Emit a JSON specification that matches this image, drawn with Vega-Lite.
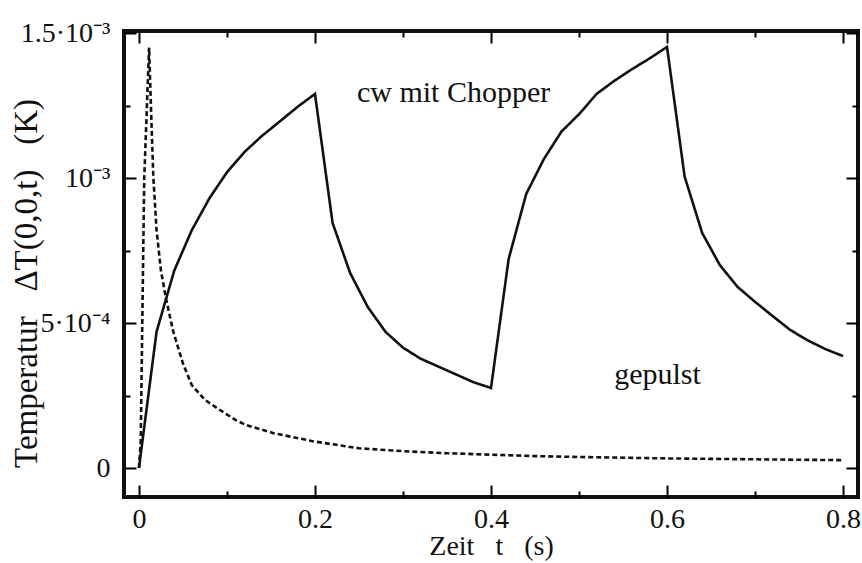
{
  "$schema": "https://vega.github.io/schema/vega-lite/v6.json",
  "width": 734,
  "height": 466,
  "autosize": "none",
  "padding": {"left": 124, "top": 31, "right": 4, "bottom": 66},
  "background": "white",
  "config": {
    "view": {"stroke": "#111", "strokeWidth": 4},
    "font": "Liberation Serif",
    "axis": {"domain": false, "grid": false, "tickColor": "#111", "tickWidth": 2, "labelColor": "#111", "titleColor": "#111", "labelFont": "Liberation Serif", "titleFont": "Liberation Serif", "titleFontWeight": "normal"}
  },
  "datasets": {
    "curves": [
      {"t": 0, "T": 0, "s": "cw"},
      {"t": 0.02, "T": 0.00047, "s": "cw"},
      {"t": 0.04, "T": 0.00068, "s": "cw"},
      {"t": 0.06, "T": 0.00082, "s": "cw"},
      {"t": 0.08, "T": 0.00093, "s": "cw"},
      {"t": 0.10, "T": 0.00102, "s": "cw"},
      {"t": 0.12, "T": 0.00109, "s": "cw"},
      {"t": 0.14, "T": 0.001146, "s": "cw"},
      {"t": 0.16, "T": 0.001195, "s": "cw"},
      {"t": 0.18, "T": 0.001245, "s": "cw"},
      {"t": 0.20, "T": 0.00129, "s": "cw"},
      {"t": 0.22, "T": 0.000845, "s": "cw"},
      {"t": 0.24, "T": 0.000672, "s": "cw"},
      {"t": 0.26, "T": 0.000555, "s": "cw"},
      {"t": 0.28, "T": 0.00047, "s": "cw"},
      {"t": 0.30, "T": 0.000415, "s": "cw"},
      {"t": 0.32, "T": 0.000377, "s": "cw"},
      {"t": 0.34, "T": 0.00035, "s": "cw"},
      {"t": 0.36, "T": 0.000323, "s": "cw"},
      {"t": 0.38, "T": 0.000296, "s": "cw"},
      {"t": 0.40, "T": 0.000276, "s": "cw"},
      {"t": 0.42, "T": 0.00072, "s": "cw"},
      {"t": 0.44, "T": 0.000945, "s": "cw"},
      {"t": 0.46, "T": 0.001065, "s": "cw"},
      {"t": 0.48, "T": 0.00116, "s": "cw"},
      {"t": 0.50, "T": 0.00122, "s": "cw"},
      {"t": 0.52, "T": 0.00129, "s": "cw"},
      {"t": 0.54, "T": 0.001335, "s": "cw"},
      {"t": 0.56, "T": 0.001375, "s": "cw"},
      {"t": 0.58, "T": 0.001412, "s": "cw"},
      {"t": 0.60, "T": 0.001452, "s": "cw"},
      {"t": 0.62, "T": 0.001005, "s": "cw"},
      {"t": 0.64, "T": 0.00081, "s": "cw"},
      {"t": 0.66, "T": 0.0007, "s": "cw"},
      {"t": 0.68, "T": 0.000625, "s": "cw"},
      {"t": 0.70, "T": 0.000573, "s": "cw"},
      {"t": 0.72, "T": 0.000524, "s": "cw"},
      {"t": 0.74, "T": 0.000476, "s": "cw"},
      {"t": 0.76, "T": 0.00044, "s": "cw"},
      {"t": 0.78, "T": 0.00041, "s": "cw"},
      {"t": 0.80, "T": 0.000386, "s": "cw"},
      {"t": 0, "T": 0, "s": "puls"},
      {"t": 0.002, "T": 0.00009, "s": "puls"},
      {"t": 0.004, "T": 0.00055, "s": "puls"},
      {"t": 0.006, "T": 0.001, "s": "puls"},
      {"t": 0.0115, "T": 0.00145, "s": "puls"},
      {"t": 0.014, "T": 0.00121, "s": "puls"},
      {"t": 0.0163, "T": 0.001005, "s": "puls"},
      {"t": 0.02, "T": 0.00082, "s": "puls"},
      {"t": 0.025, "T": 0.00068, "s": "puls"},
      {"t": 0.031, "T": 0.00058, "s": "puls"},
      {"t": 0.039, "T": 0.00047, "s": "puls"},
      {"t": 0.05, "T": 0.00036, "s": "puls"},
      {"t": 0.06, "T": 0.000286, "s": "puls"},
      {"t": 0.075, "T": 0.000235, "s": "puls"},
      {"t": 0.092, "T": 0.0002, "s": "puls"},
      {"t": 0.11, "T": 0.000165, "s": "puls"},
      {"t": 0.122, "T": 0.000148, "s": "puls"},
      {"t": 0.153, "T": 0.00012, "s": "puls"},
      {"t": 0.2, "T": 0.000091, "s": "puls"},
      {"t": 0.25, "T": 0.000068, "s": "puls"},
      {"t": 0.3, "T": 0.000058, "s": "puls"},
      {"t": 0.35, "T": 0.000051, "s": "puls"},
      {"t": 0.4, "T": 0.000046, "s": "puls"},
      {"t": 0.45, "T": 0.000041, "s": "puls"},
      {"t": 0.5, "T": 0.000038, "s": "puls"},
      {"t": 0.6, "T": 0.000033, "s": "puls"},
      {"t": 0.7, "T": 0.00003, "s": "puls"},
      {"t": 0.8, "T": 0.000027, "s": "puls"}
    ],
    "labels": [
      {"t": 0.2477, "T": 0.001262, "label": "cw mit Chopper"},
      {"t": 0.54, "T": 0.00029, "label": "gepulst"}
    ]
  },
  "layer": [
    {
      "data": {"name": "curves"},
      "mark": {"type": "line", "color": "#111", "strokeWidth": 2.6, "strokeJoin": "miter"},
      "encoding": {
        "x": {
          "field": "t", "type": "quantitative",
          "scale": {"domain": [-0.017, 0.817], "nice": false, "zero": false},
          "axis": {
            "orient": "bottom",
            "offset": -12,
            "ticks": true,
            "values": [0, 0.1, 0.2, 0.3, 0.4, 0.5, 0.6, 0.7, 0.8],
            "labelExpr": "round(datum.value*10)%2==0 ? format(datum.value,'.1~f') : ''",
            "tickSize": 12,
            "tickColor": "black",
            "tickWidth": 2,
            "tickDash": {"condition": {"test": "round(datum.value*10)%2==0", "value": [20, 1]}, "value": [0, 6, 6, 100]},
            "labelFontSize": 28,
            "labelPadding": 8,
            "title": "Zeit\u00a0\u00a0 t\u00a0\u00a0 (s)",
            "titleFont": "Liberation Serif",
            "titleFontSize": 28,
            "titleX": 367,
            "titleY": 69,
            "titleAlign": "center",
            "titleBaseline": "alphabetic"
          }
        },
        "y": {
          "field": "T", "type": "quantitative",
          "scale": {"domain": [-0.0001, 0.001507], "nice": false, "zero": false},
          "axis": {
            "orient": "left",
            "offset": -12,
            "ticks": true,
            "values": [0, 0.00025, 0.0005, 0.00075, 0.001, 0.00125, 0.0015],
            "labelExpr": "round(datum.value*10000)==0 ? '0' : round(datum.value*10000)==5 ? '5·10⁻⁴' : round(datum.value*10000)==10 ? '10⁻³' : round(datum.value*10000)==15 ? '1.5·10⁻³' : ''",
            "tickSize": 12,
            "tickColor": "black",
            "tickWidth": 2,
            "tickDash": {"condition": {"test": "round(datum.value*4000)%2==0", "value": [20, 1]}, "value": [0, 6, 6, 100]},
            "labelFontSize": 28,
            "labelPadding": 14,
            "title": "Temperatur\u00a0\u00a0 ΔT(0,0,t)\u00a0\u00a0 (K)",
            "titleFont": "Liberation Serif",
            "titleFontSize": 33,
            "titleX": -110,
            "titleY": 252,
            "titleAngle": -90,
            "titleAlign": "center",
            "titleBaseline": "middle"
          }
        },
        "strokeDash": {
          "field": "s", "type": "nominal",
          "scale": {"domain": ["cw", "puls"], "range": [[1, 0], [5, 3]]},
          "legend": null
        }
      }
    },
    {
      "data": {"name": "labels"},
      "mark": {"type": "text", "align": "left", "baseline": "alphabetic", "fontSize": 30, "font": "Liberation Serif", "color": "#111"},
      "encoding": {
        "x": {
          "field": "t", "type": "quantitative",
          "scale": {"domain": [-0.017, 0.817], "nice": false, "zero": false},
          "axis": {
            "orient": "top",
            "offset": -12,
            "ticks": true,
            "values": [0, 0.1, 0.2, 0.3, 0.4, 0.5, 0.6, 0.7, 0.8],
            "labels": false,
            "title": null,
            "tickSize": 12,
            "tickColor": "black",
            "tickWidth": 2,
            "tickDash": {"condition": {"test": "round(datum.value*10)%2==0", "value": [20, 1]}, "value": [0, 6, 6, 100]}
          }
        },
        "y": {
          "field": "T", "type": "quantitative",
          "scale": {"domain": [-0.0001, 0.001507], "nice": false, "zero": false},
          "axis": {
            "orient": "right",
            "offset": -12,
            "ticks": true,
            "values": [0, 0.00025, 0.0005, 0.00075, 0.001, 0.00125, 0.0015],
            "labels": false,
            "title": null,
            "tickSize": 12,
            "tickColor": "black",
            "tickWidth": 2,
            "tickDash": {"condition": {"test": "round(datum.value*4000)%2==0", "value": [20, 1]}, "value": [0, 6, 6, 100]}
          }
        },
        "text": {"field": "label", "type": "nominal"}
      }
    }
  ],
  "resolve": {"axis": {"x": "independent", "y": "independent"}}
}
